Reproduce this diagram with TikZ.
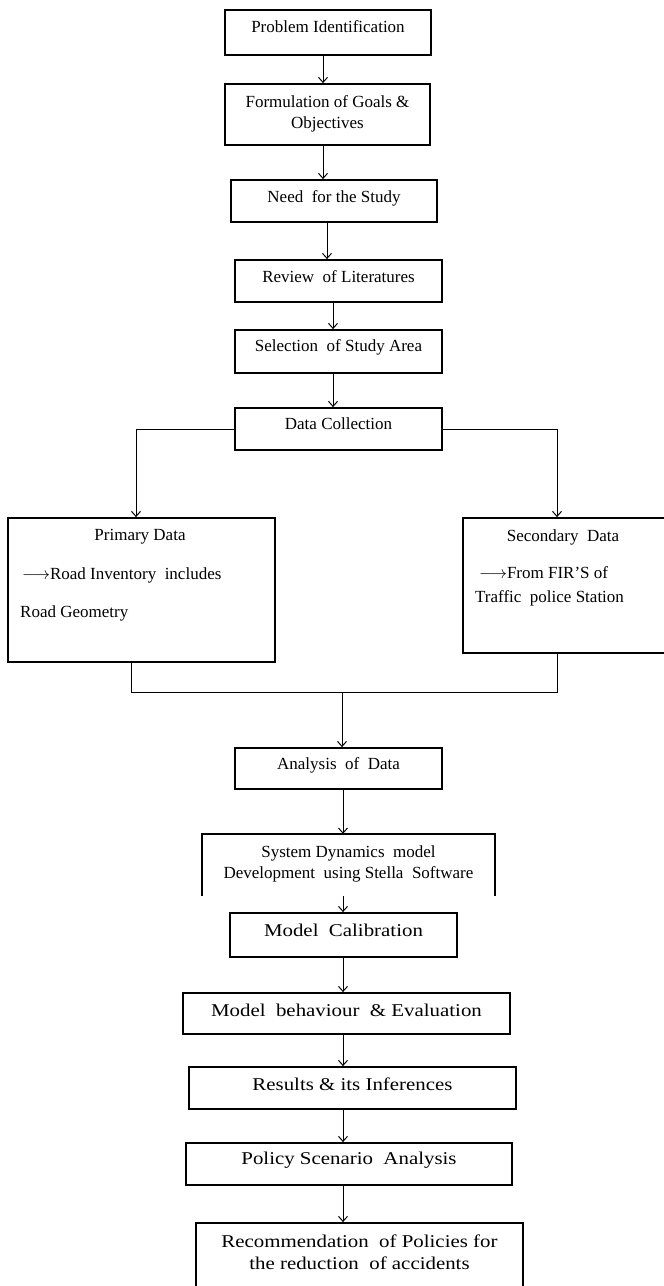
\documentclass[tikz,border=0pt]{standalone}
\usepackage{fontspec}
\setmainfont{Liberation Serif}
\newfontfamily\lowfont[FakeStretch=1.16]{Liberation Serif}
\usetikzlibrary{arrows.meta}
\tikzset{
  box/.style={draw, line width=1.8pt, inner sep=0pt},
  openbox/.style={inner sep=0pt},
  txt/.style={inner sep=0pt, font=\fontsize{17}{20}\selectfont, align=center},
  lowtxt/.style={inner sep=0pt, font=\lowfont\fontsize{18}{22}\selectfont, align=center},
  conn/.style={line width=1pt},
  arr/.style={line width=1pt, -{Straight Barb[length=5pt,width=9pt,line width=1pt]}}
}
\begin{document}
\begin{tikzpicture}[x=1pt,y=-1pt]
\useasboundingbox (0,0) rectangle (664,1286);
% columns for connectors
\coordinate (k323) at (323,0);
\coordinate (k327) at (327,0);
\coordinate (k333) at (333,0);
\coordinate (k343) at (343,0);
\coordinate (k136) at (136,0);
\coordinate (k131) at (131,0);
\coordinate (k557) at (557,0);
\coordinate (bus) at (342,692);

% boxes
\node[box, minimum width=206pt, minimum height=45pt] (prob) at (328,32.5) {};
\node[box, minimum width=205pt, minimum height=61pt] (form) at (327.5,114.5) {};
\node[box, minimum width=206pt, minimum height=42pt] (need) at (334,201) {};
\node[box, minimum width=207pt, minimum height=42pt] (rev) at (338.5,281) {};
\node[box, minimum width=207pt, minimum height=43pt] (sel) at (338.5,351.5) {};
\node[box, minimum width=207pt, minimum height=42pt] (dc) at (338.5,429) {};
\node[box, minimum width=267pt, minimum height=144pt] (prim) at (141.5,590) {};
\node[box, minimum width=207pt, minimum height=135pt] (sec) at (566.5,585.5) {};
\node[box, minimum width=207pt, minimum height=41pt] (ana) at (338.5,768.5) {};
\node[openbox, minimum width=293pt, minimum height=62pt] (sd) at (348.5,865) {};
\draw[line width=1.8pt] (sd.south west) -- (sd.north west) -- (sd.north east) -- (sd.south east);
\node[box, minimum width=227pt, minimum height=44pt] (cal) at (343.5,935) {};
\node[box, minimum width=327pt, minimum height=41pt] (beh) at (346.5,1013.5) {};
\node[box, minimum width=327pt, minimum height=42pt] (res) at (352.5,1088) {};
\node[box, minimum width=326pt, minimum height=42pt] (pol) at (349,1164) {};
\node[box, minimum width=327pt, minimum height=77pt] (rec) at (359.5,1261.5) {};

% texts
\node[txt] (t-prob) at (328,27) {Problem Identification};
\node[txt] (t-form) at (327.5,114) {Formulation of Goals \&\\[1pt]Objectives};
\node[txt] (t-need) at (334,198) {Need\ \ for the Study};
\node[txt] (t-rev) at (338.5,277) {Review\ \ of Literatures};
\node[txt] (t-sel) at (338.5,347) {Selection\ \ of Study Area};
\node[txt] (t-dc) at (338.5,424) {Data Collection};
\node[txt] (t-prim1) at (140,537) {Primary Data};
\node[txt, anchor=west] (t-prim2) at (22,575) {$\longrightarrow$Road Inventory\ \ includes};
\node[txt, anchor=west] (t-prim3) at (20,613) {Road Geometry};
\node[txt] (t-sec1) at (563,537) {Secondary\ \ Data};
\node[txt, anchor=west] (t-sec2) at (479,573) {$\longrightarrow$From FIR'S of};
\node[txt, anchor=west] (t-sec3) at (475,598) {Traffic\ \ police Station};
\node[txt] (t-ana) at (338.5,765) {Analysis\ \ of\ \ Data};
\node[txt] (t-sd) at (348.5,864) {System Dynamics\ \ model\\[1pt]Development\ \ using Stella\ \ Software};
\node[lowtxt] (t-cal) at (343.5,930) {Model\ \ Calibration};
\node[lowtxt] (t-beh) at (346.5,1010) {Model\ \ behaviour\ \ \&\ Evaluation};
\node[lowtxt] (t-res) at (352.5,1084) {Results \& its Inferences};
\node[lowtxt] (t-pol) at (349,1160) {Policy Scenario\ \ Analysis};
\node[lowtxt] (t-rec) at (359.5,1252) {Recommendation\ \ of\ Policies for\\the reduction\ \ of accidents};

% connectors
\draw[arr] (prob.south -| k323) -- (form.north -| k323);
\draw[arr] (form.south -| k323) -- (need.north -| k323);
\draw[arr] (need.south -| k327) -- (rev.north -| k327);
\draw[arr] (rev.south -| k333) -- (sel.north -| k333);
\draw[arr] (sel.south -| k333) -- (dc.north -| k333);
\draw[arr] (dc.west) -| (prim.north -| k136);
\draw[arr] (dc.east) -| (sec.north -| k557);
\draw[conn] (prim.south -| k131) -- (k131 |- bus) -- (k557 |- bus) -- (sec.south -| k557);
\draw[arr] (bus) -- (ana.north -| bus);
\draw[arr] (ana.south -| k343) -- (sd.north -| k343);
\draw[arr] (sd.south -| k343) -- (cal.north -| k343);
\draw[arr] (cal.south -| k343) -- (beh.north -| k343);
\draw[arr] (beh.south -| k343) -- (res.north -| k343);
\draw[arr] (res.south -| k343) -- (pol.north -| k343);
\draw[arr] (pol.south -| k343) -- (rec.north -| k343);
\end{tikzpicture}
\end{document}
